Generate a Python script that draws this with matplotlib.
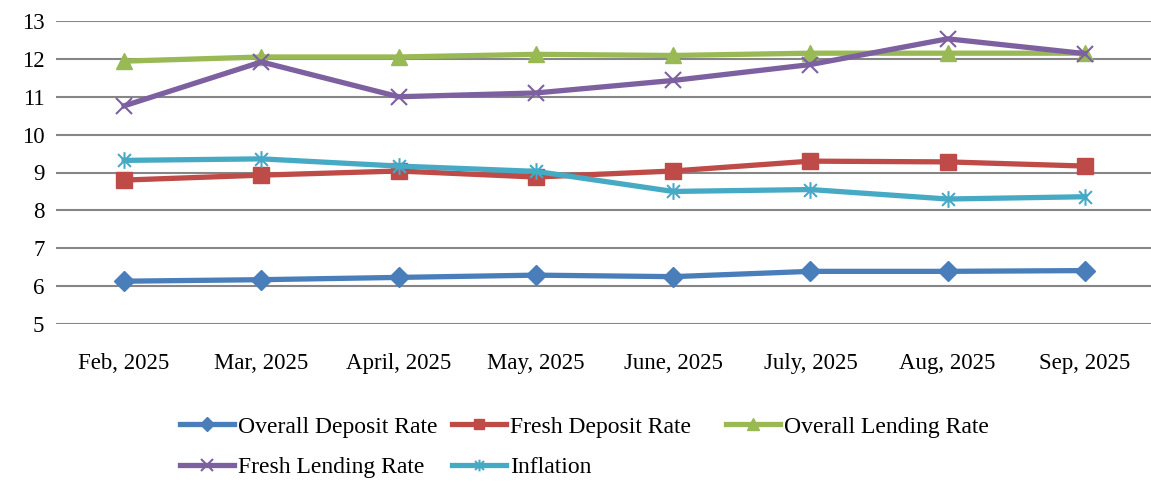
import matplotlib.pyplot as plt
from matplotlib.path import Path

# Data
months = ['Feb, 2025', 'Mar, 2025', 'April, 2025', 'May, 2025',
          'June, 2025', 'July, 2025', 'Aug, 2025', 'Sep, 2025']
overall_deposit = [6.13, 6.17, 6.23, 6.29, 6.25, 6.39, 6.39, 6.41]
fresh_deposit = [8.80, 8.93, 9.04, 8.88, 9.04, 9.30, 9.28, 9.17]
overall_lending = [11.94, 12.05, 12.05, 12.12, 12.09, 12.15, 12.15, 12.15]
fresh_lending = [10.76, 11.92, 11.00, 11.10, 11.43, 11.85, 12.53, 12.14]
inflation = [9.32, 9.36, 9.17, 9.03, 8.50, 8.55, 8.30, 8.36]

plt.rcParams['font.family'] = ['Liberation Serif', 'DejaVu Serif']

# Excel style star marker: an x with a vertical bar
star = Path([(-1, -1), (1, 1), (-1, 1), (1, -1), (0, -1.3), (0, 1.3)],
            [Path.MOVETO, Path.LINETO, Path.MOVETO, Path.LINETO,
             Path.MOVETO, Path.LINETO])

fig = plt.figure(figsize=(11.51, 4.82), dpi=100)
ax = fig.add_axes([55.5 / 1151, 1 - 324 / 482, 1098 / 1151, 303 / 482])

x = range(len(months))
lw = 3.8
h1, = ax.plot(x, overall_deposit, color='#4A7EBB', lw=lw, marker='D',
              markersize=10, label='Overall Deposit Rate')
h2, = ax.plot(x, fresh_deposit, color='#BE4B48', lw=lw, marker='s',
              markersize=11, label='Fresh Deposit Rate')
h3, = ax.plot(x, overall_lending, color='#98B954', lw=lw, marker='^',
              markersize=12, label='Overall Lending Rate')
h4, = ax.plot(x, fresh_lending, color='#7D60A0', lw=lw, marker='x',
              markersize=12, markeredgewidth=1.5, label='Fresh Lending Rate')
h5, = ax.plot(x, inflation, color='#46AAC5', lw=lw, marker=star,
              markersize=12, markeredgewidth=1.5, label='Inflation')

ax.set_xlim(-0.5, len(months) - 0.5)
ax.set_ylim(5, 13)
ax.set_yticks(range(5, 14))
ax.set_xticks(list(x))
ax.set_xticklabels(months)
ax.tick_params(length=0, labelsize=16.5, pad=8)
ax.tick_params(axis='x', pad=21)
ax.grid(axis='y', color='#868686', lw=1.5)
ax.set_axisbelow(True)
for s in ax.spines.values():
    s.set_visible(False)

# Excel lays the legend out in equal width columns, so one legend per column
columns = [([h1, h4], 180), ([h2, h5], 452), ([h3], 726)]
for hs, left in columns:
    fig.legend(hs, [h.get_label() for h in hs], loc='upper left',
               bbox_to_anchor=(left / 1151, 1 - 416 / 482),
               frameon=False, fontsize=17, handlelength=2.3,
               handletextpad=0.15, labelspacing=0.8,
               borderaxespad=0, borderpad=0, markerscale=0.7)

plt.savefig('out.png', dpi=100)
